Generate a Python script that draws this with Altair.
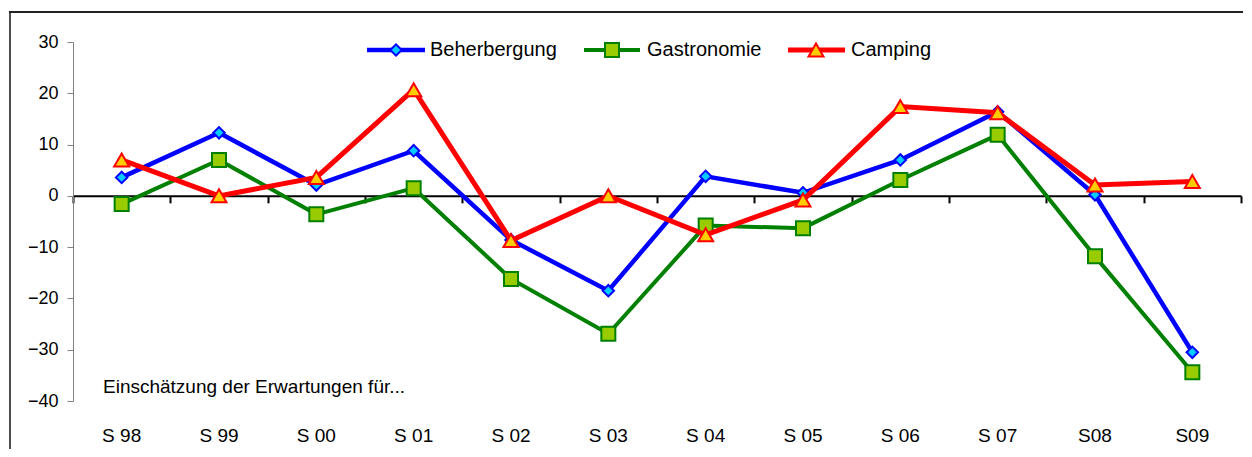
import altair as alt
import pandas as pd

categories = ["S 98", "S 99", "S 00", "S 01", "S 02", "S 03", "S 04", "S 05", "S 06", "S 07", "S08", "S09"]
beherbergung = [3.6, 12.3, 2.1, 8.8, -8.6, -18.5, 3.8, 0.6, 7.0, 16.4, 0.2, -30.5]
gastronomie = [-1.6, 7.0, -3.6, 1.5, -16.2, -26.9, -5.8, -6.3, 3.1, 11.9, -11.8, -34.4]
camping = [7.0, 0.0, 3.6, 20.7, -8.7, 0.0, -7.6, -0.8, 17.4, 16.2, 2.1, 2.8]
y_ticks = [-40, -30, -20, -10, 0, 10, 20, 30]
annotation = "Einschätzung der Erwartungen für..."

series = [
    dict(name="Beherbergung", values=beherbergung, line="#0000FF", lw=4.5,
         shape="diamond", fill="#00CCFF", stroke="#0000FF", size=130,
         lx=(294, 352), mx=323, tx=357),
    dict(name="Gastronomie", values=gastronomie, line="#008000", lw=4,
         shape="square", fill="#99CC00", stroke="#008000", size=196,
         lx=(511, 567), mx=539, tx=574),
    dict(name="Camping", values=camping, line="#FF0000", lw=5,
         shape="triangle-up", fill="#FFCC00", stroke="#FF0000", size=225,
         lx=(715, 772), mx=743, tx=778),
]

W, H = 1168, 359
YMIN, YMAX = -40, 30
zero_offset = -(H * (0 - YMIN) / (YMAX - YMIN))
FONT = "Liberation Sans, Arial, sans-serif"

xscale = alt.Scale(type="band", domain=categories, paddingInner=0, paddingOuter=0)
yscale = alt.Scale(domain=[YMIN, YMAX], nice=False, zero=False)
yaxis = alt.Axis(values=y_ticks, grid=False, title=None, domainColor="#808080", domainWidth=1,
                 tickColor="#808080", tickSize=6, labelFont=FONT, labelFontSize=18,
                 labelColor="#000000", labelPadding=9)

label_axis = alt.Axis(orient="bottom", domain=False, ticks=False, labelFont=FONT,
                      labelFontSize=19, labelFontWeight="normal", labelColor="#000000",
                      labelPadding=25, labelAngle=0, title=None)
zero_axis = alt.Axis(orient="bottom", offset=zero_offset, domain=True, domainColor="#000000",
                     domainWidth=2, ticks=True, tickBand="extent", tickColor="#000000",
                     tickWidth=2, tickSize=7, labels=False, title=None)

layers = []

# outer frame (only top and left edges fall inside the picture)
frame_df = pd.DataFrame({"k": [0]})
layers.append(alt.Chart(frame_df).mark_rule(stroke="#222222", strokeWidth=2).encode(
    x=alt.value(0), x2=alt.value(1170), y=alt.value(-30)))
layers.append(alt.Chart(frame_df).mark_rule(stroke="#222222", strokeWidth=2).encode(
    x=alt.value(-64), x2=alt.value(0), y=alt.value(-30)))
layers.append(alt.Chart(frame_df).mark_rule(stroke="#222222", strokeWidth=1.6).encode(
    x=alt.value(-63), y=alt.value(-30), y2=alt.value(440)))

# invisible layer carrying the category labels axis
lab_df = pd.DataFrame({"cat": categories, "v": beherbergung})
layers.append(
    alt.Chart(lab_df).mark_point(opacity=0).encode(
        x=alt.X("cat:N", scale=xscale, axis=label_axis, sort=categories),
        y=alt.Y("v:Q", scale=yscale, axis=yaxis),
    )
)
# invisible layer carrying the zero line axis
layers.append(
    alt.Chart(lab_df).mark_point(opacity=0).encode(
        x=alt.X("cat:N", scale=xscale, axis=zero_axis, sort=categories),
    )
)

for s in series:
    df = pd.DataFrame({"cat": categories, "v": s["values"]})
    base = alt.Chart(df).encode(
        x=alt.X("cat:N", scale=xscale, sort=categories, axis=None),
        y=alt.Y("v:Q", scale=yscale, axis=yaxis),
    )
    layers.append(base.mark_line(color=s["line"], strokeWidth=s["lw"]))
    layers.append(base.mark_point(shape=s["shape"], filled=True, fill=s["fill"], stroke=s["stroke"],
                                  strokeWidth=2, size=s["size"], opacity=1))

# legend drawn manually (line + marker + text)
for s in series:
    ldf = pd.DataFrame({"name": [s["name"]]})
    lb = alt.Chart(ldf)
    layers.append(lb.mark_rule(color=s["line"], strokeWidth=s["lw"]).encode(
        x=alt.value(s["lx"][0]), x2=alt.value(s["lx"][1]), y=alt.value(8)))
    layers.append(lb.mark_point(shape=s["shape"], filled=True, fill=s["fill"], stroke=s["stroke"],
                                strokeWidth=2, size=s["size"], opacity=1).encode(
        x=alt.value(s["mx"]), y=alt.value(8)))
    layers.append(lb.mark_text(align="left", baseline="middle", font=FONT, fontSize=20,
                               color="#000000").encode(
        x=alt.value(s["tx"]), y=alt.value(8), text="name:N"))

ann_df = pd.DataFrame({"t": [annotation]})
layers.append(alt.Chart(ann_df).mark_text(align="left", baseline="middle", font=FONT,
                                          fontSize=19, color="#000000").encode(
    x=alt.value(30), y=alt.value(345), text="t:N"))

chart = alt.layer(*layers).resolve_axis(x="independent").properties(
    width=W, height=H,
    background="#FFFFFF",
    autosize=alt.AutoSizeParams(type="none"),
    padding={"left": 65, "top": 34, "right": 3, "bottom": 48},
).configure_view(strokeWidth=0, stroke="transparent")

chart.save("out.html", embed_options={"renderer": "svg", "actions": False})
